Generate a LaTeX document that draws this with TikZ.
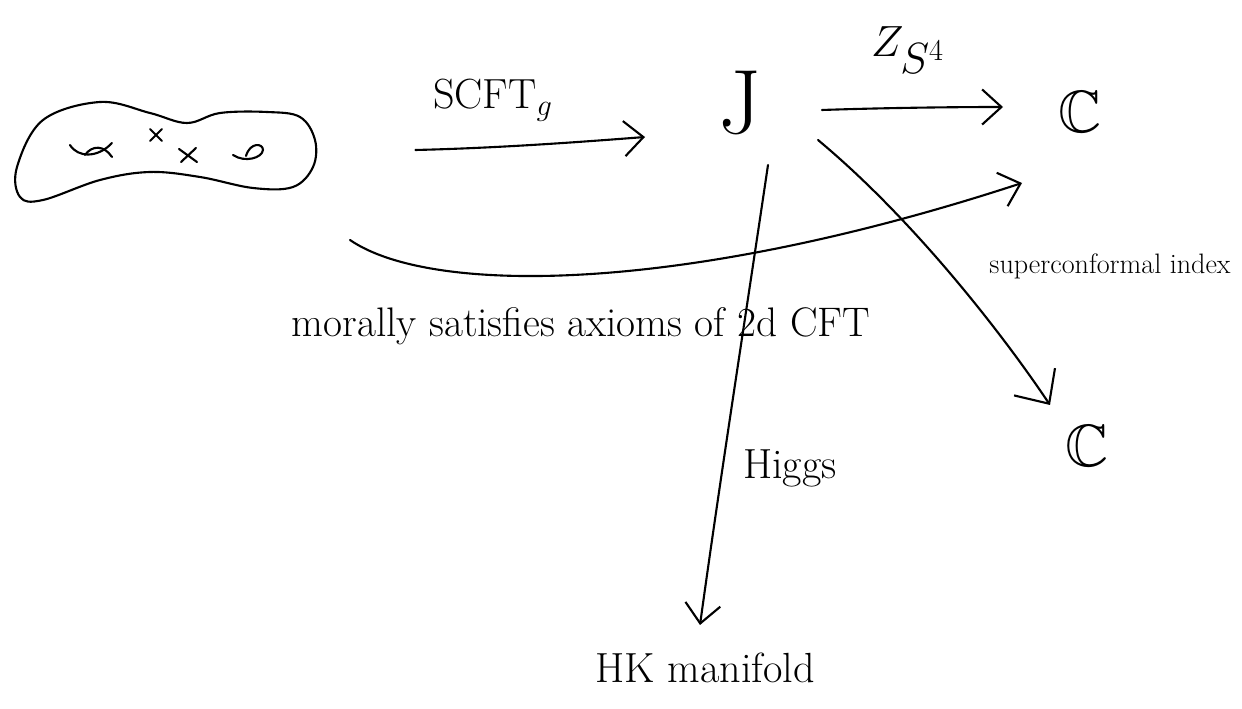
\documentclass[tikz,border=0pt]{standalone}
\usepackage{amssymb}
\usetikzlibrary{arrows.meta}
\begin{document}
\begin{tikzpicture}[x=0.02cm,y=-0.02cm,
  pen/.style={line width=1.2pt, line cap=round, line join=round},
  arr/.style={pen, -{Straight Barb[length=11pt,width=20pt]}},
  bigarr/.style={pen, -{Straight Barb[length=15pt,width=28pt]}},
  lbl/.style={inner sep=0pt},
]
\useasboundingbox (0,0) rectangle (1242,709);

% surface
\draw[pen] plot[smooth cycle, tension=0.6] coordinates {(17,167) (43,120) (100,102) (150,113) (187,123) (220,113) (267,112) (300,117) (315,140) (313,167) (293,187) (253,188) (200,177) (150,172) (100,180) (43,200) (20,197)};
\node[minimum width=6cm, minimum height=2cm, inner sep=0pt] (blob) at (165,152) {};
% handles
\draw[pen] (70,145) .. controls (78,158) and (98,158) .. (112,143);
\draw[pen] (85,155) .. controls (92,145) and (104,145) .. (112,157);
\draw[pen] (233,155) .. controls (245,163) and (262,158) .. (263,150)
  .. controls (263,143) and (250,142) .. (246,156);
% punctures
\draw[pen] (150,129) -- (162,141) (162,129) -- (150,141);
\draw[pen] (179,149) -- (197,162) (196,148) -- (181,162);

% nodes
\node[lbl, font=\fontsize{52}{52}\selectfont] (J) at (740,103) {J};
\node[lbl, font=\fontsize{34}{34}\selectfont] (C1) at (1080,112) {$\mathbb{C}$};
\node[lbl, font=\fontsize{34}{34}\selectfont] (C2) at (1087,446) {$\mathbb{C}$};
\node[lbl, font=\fontsize{24}{26}\selectfont] (HK) at (705,668) {HK manifold};

% labels
\node[lbl, font=\fontsize{24}{26}\selectfont] (scft) at (493,100) {SCFT$_{g}$};
\node[lbl, font=\fontsize{36}{36}\selectfont] (zs) at (908,50) {$Z_{S^4}$};
\node[lbl, font=\fontsize{23.5}{25}\selectfont] (mor) at (581,326) {morally satisfies axioms of 2d CFT};
\node[lbl, font=\fontsize{16}{18}\selectfont] (sci) at (1110,266) {superconformal index};
\node[lbl, font=\fontsize{24}{26}\selectfont] (higgs) at (790,468) {Higgs};

% connectors
\draw[arr] ([shift={(100,-2)}]blob.east) .. controls (500,148) and (580,142) .. ([shift={(-95,34)}]J.center);
\draw[arr] ([shift={(82,7)}]J.center) .. controls (880,108) and (950,107) .. ([shift={(-77,-5)}]C1.center);
\draw[arr] ([shift={(28,62)}]J.center) .. controls (745,320) and (720,480) .. ([shift={(-5,-43)}]HK.center);
\draw[bigarr] ([shift={(78,37)}]J.center) .. controls (920,225) and (1010,345) .. ([shift={(-37,-41)}]C2.center);
\draw[arr] ([shift={(185,88)}]blob.center) .. controls (430,295) and (680,295) .. ([shift={(-58,71)}]C1.center);
\end{tikzpicture}
\end{document}
